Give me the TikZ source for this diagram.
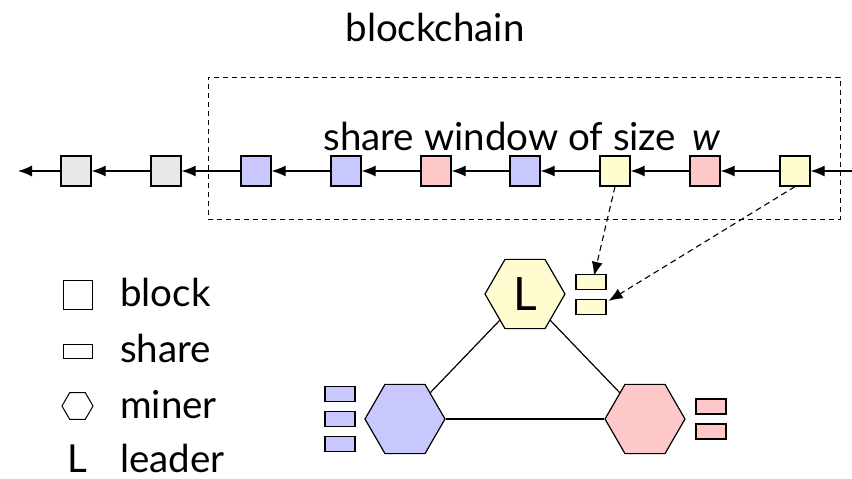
\documentclass[tikz,border=0pt]{standalone}
\usepackage{fontspec}
\setmainfont{Lato}
\usetikzlibrary{shapes.geometric,arrows.meta}
\definecolor{cgray}{RGB}{232,232,232}
\definecolor{cblue}{RGB}{200,200,255}
\definecolor{cpink}{RGB}{255,200,200}
\definecolor{cyell}{RGB}{255,252,208}
\tikzset{
  blk/.style={draw,line width=1.2pt,minimum width=30pt,minimum height=30pt,inner sep=0pt},
  shr/.style={draw,line width=1.2pt,minimum width=30pt,minimum height=15pt,inner sep=0pt},
  hex/.style={draw,line width=1.2pt,regular polygon,regular polygon sides=6,minimum size=80pt,inner sep=0pt},
  chainarrow/.style={line width=1.2pt,-{Latex[length=14pt,width=11pt]}},
  dasharrow/.style={line width=1.1pt,dash pattern=on 6pt off 4pt,-{Latex[length=14pt,width=11pt]}},
  bigfont/.style={font=\fontsize{38.5}{44}\selectfont},
  lbl/.style={bigfont,inner sep=0pt,anchor=base west},
}
\begin{document}
\begin{tikzpicture}[x=1pt,y=-1pt]
\useasboundingbox (0,0) rectangle (852,479);
% title
\node[bigfont,inner sep=0pt,anchor=base] (title) at (435,41) {blockchain};
% window
\node[draw,line width=1pt,dash pattern=on 5pt off 4pt,minimum width=632pt,minimum height=142pt,inner sep=0pt] (win) at (524,148) {};
\node[bigfont,inner sep=0pt,anchor=base] (wtext) at (522,150) {share window of size \,\textit{w}};
% chain
\node[blk,fill=cgray] (b1) at (76,171) {};
\node[blk,fill=cgray] (b2) at (166,171) {};
\node[blk,fill=cblue] (b3) at (256,171) {};
\node[blk,fill=cblue] (b4) at (346,171) {};
\node[blk,fill=cpink] (b5) at (436,171) {};
\node[blk,fill=cblue] (b6) at (525,171) {};
\node[blk,fill=cyell] (b7) at (615,171) {};
\node[blk,fill=cpink] (b8) at (705,171) {};
\node[blk,fill=cyell] (b9) at (795,171) {};
\coordinate (lend) at (18,171);
\coordinate (rend) at (852,171);
\draw[chainarrow] (b1.west) -- (lend);
\draw[chainarrow] (b2.west) -- (b1.east);
\draw[chainarrow] (b3.west) -- (b2.east);
\draw[chainarrow] (b4.west) -- (b3.east);
\draw[chainarrow] (b5.west) -- (b4.east);
\draw[chainarrow] (b6.west) -- (b5.east);
\draw[chainarrow] (b7.west) -- (b6.east);
\draw[chainarrow] (b8.west) -- (b7.east);
\draw[chainarrow] (b9.west) -- (b8.east);
\draw[chainarrow] (rend) -- (b9.east);
% miners
\node[hex,fill=cyell,font=\fontsize{46}{50}\selectfont] (mL) at (525,294) {L};
\node[hex,fill=cblue] (mB) at (405,419) {};
\node[hex,fill=cpink] (mP) at (645,419) {};
\draw[line width=1.2pt] (mL) -- (mB);
\draw[line width=1.2pt] (mL) -- (mP);
\draw[line width=1.2pt] (mB) -- (mP);
% shares
\node[shr,fill=cyell] (sy1) at (591,282) {};
\node[shr,fill=cyell] (sy2) at (591,307) {};
\node[shr,fill=cblue] (sb1) at (340,394) {};
\node[shr,fill=cblue] (sb2) at (340,419) {};
\node[shr,fill=cblue] (sb3) at (340,444) {};
\node[shr,fill=cpink] (sp1) at (711,406.5) {};
\node[shr,fill=cpink] (sp2) at (711,431.5) {};
\draw[dasharrow] (b7.south) -- ([xshift=3pt,yshift=-2pt]sy1.north);
\draw[dasharrow] (b9.south) -- ([xshift=2pt,yshift=-2pt]sy2.north east);
% legend
\node[blk,line width=1pt,minimum width=29pt,minimum height=29pt] (lgb) at (77.5,294.5) {};
\node[lbl] (lgbt) at (120,306) {block};
\node[shr,line width=1pt,minimum width=29pt,minimum height=14pt] (lgs) at (77.5,351) {};
\node[lbl] (lgst) at (120,362) {share};
\node[hex,line width=1pt,minimum size=31pt] (lgh) at (77.5,406) {};
\node[lbl] (lght) at (120,418) {miner};
\node[bigfont,inner sep=0pt,anchor=base] (lgl) at (77,472) {L};
\node[lbl] (lglt) at (120,472) {leader};
\end{tikzpicture}
\end{document}
